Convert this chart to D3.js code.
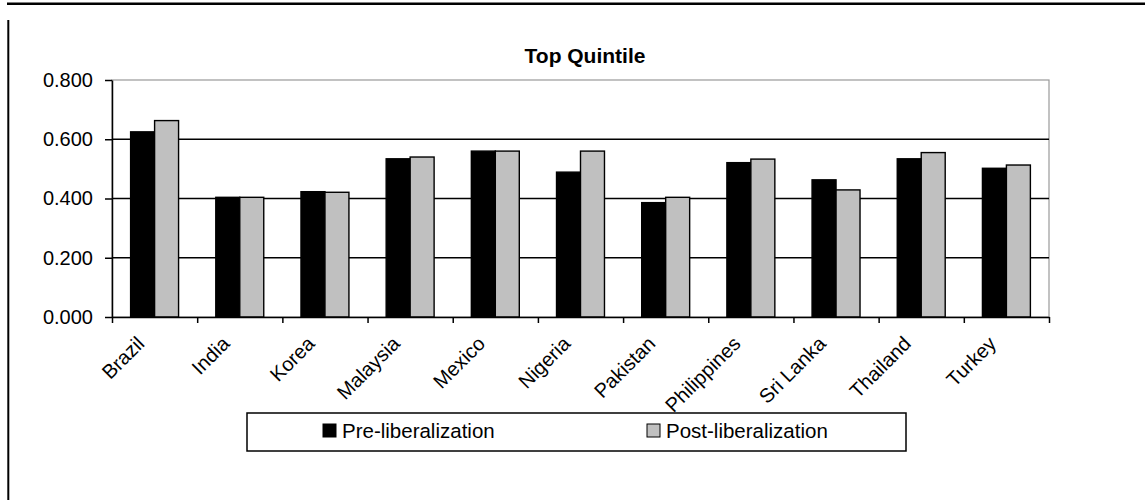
<!DOCTYPE html>
<html>
<head>
<meta charset="utf-8">
<script src="https://cdn.jsdelivr.net/npm/d3@7"></script>
<style>
  body { margin: 0; background: #fff; }
  text { font-family: "Liberation Sans", Arial, sans-serif; }
</style>
</head>
<body>
<div id="chart"></div>
<script>
// chart values
var categories = ["Brazil", "India", "Korea", "Malaysia", "Mexico", "Nigeria",
  "Pakistan", "Philippines", "Sri Lanka", "Thailand", "Turkey"];
var preValues = [0.625, 0.404, 0.423, 0.534, 0.560, 0.489, 0.386, 0.521, 0.463, 0.534, 0.502];
var postValues = [0.663, 0.404, 0.421, 0.540, 0.560, 0.560, 0.404, 0.533, 0.429, 0.555, 0.513];
var seriesNames = ["Pre-liberalization", "Post-liberalization"];
var seriesColors = ["#000000", "#c0c0c0"];
var yTicks = [0, 0.2, 0.4, 0.6, 0.8];

var svg = d3.select("#chart").append("svg")
  .attr("width", 1145)
  .attr("height", 500);

var margin = { top: 80, left: 112, right: 96, bottom: 183 };
var plotRight = 1145 - margin.right;
var plotBottom = 500 - margin.bottom;

// page frame lines
svg.append("rect").attr("x", 7).attr("y", 2.5).attr("width", 1138).attr("height", 2.5).attr("fill", "#000");
svg.append("rect").attr("x", 7.3).attr("y", 20).attr("width", 2).attr("height", 480).attr("fill", "#000");

var data = categories.map(function (c, i) {
  return { cat: c, values: [preValues[i], postValues[i]] };
});

var x0 = d3.scaleBand().domain(categories).range([margin.left, plotRight])
  .paddingInner(0.437).paddingOuter(0.2185);
var x1 = d3.scaleBand().domain([0, 1]).range([0, x0.bandwidth()]);
var xi = d3.scaleLinear().domain([0, categories.length]).range([margin.left, plotRight]);
var y = d3.scaleLinear().domain([0, 0.8]).range([plotBottom, margin.top]);

// plot area border (grey)
svg.append("rect")
  .attr("x", margin.left).attr("y", margin.top)
  .attr("width", plotRight - margin.left).attr("height", plotBottom - margin.top)
  .attr("fill", "none").attr("stroke", "#999").attr("stroke-width", 1.2);

// gridlines
svg.append("g").selectAll("line")
  .data(yTicks.filter(function (d) { return d > 0 && d < 0.8; }))
  .enter().append("line")
  .attr("x1", margin.left).attr("x2", plotRight)
  .attr("y1", function (d) { return y(d); }).attr("y2", function (d) { return y(d); })
  .attr("stroke", "#000").attr("stroke-width", 1.4);

// bars
var groups = svg.append("g").selectAll("g")
  .data(data).enter().append("g")
  .attr("transform", function (d) { return "translate(" + x0(d.cat) + ",0)"; });

groups.selectAll("rect")
  .data(function (d) { return d.values; })
  .enter().append("rect")
  .attr("x", function (d, i) { return x1(i); })
  .attr("y", function (d) { return y(d); })
  .attr("width", x1.bandwidth())
  .attr("height", function (d) { return y(0) - y(d); })
  .attr("fill", function (d, i) { return seriesColors[i]; })
  .attr("stroke", "#000").attr("stroke-width", 1.4);

// y axis
var yAxis = svg.append("g")
  .attr("transform", "translate(" + margin.left + ",0)")
  .call(d3.axisLeft(y).tickValues(yTicks).tickFormat(d3.format(".3f")).tickSize(7).tickSizeOuter(0).tickPadding(12));
yAxis.select(".domain").attr("stroke", "#000").attr("stroke-width", 1.5);
yAxis.selectAll(".tick line").attr("stroke", "#000").attr("stroke-width", 1.5);
yAxis.selectAll("text").attr("font-size", "20px").attr("fill", "#000")
  .style("font-family", "'Liberation Sans', Arial, sans-serif");

// x axis (ticks at category boundaries)
var xAxis = svg.append("g")
  .attr("transform", "translate(0," + plotBottom + ")")
  .call(d3.axisBottom(xi).tickValues(d3.range(categories.length + 1)).tickFormat("").tickSize(6).tickSizeOuter(0));
xAxis.select(".domain").attr("stroke", "#000").attr("stroke-width", 1.5);
xAxis.selectAll(".tick line").attr("stroke", "#000").attr("stroke-width", 1.5);

// category labels
svg.append("g").selectAll("text")
  .data(categories).enter().append("text")
  .attr("transform", function (d) {
    return "translate(" + (x0(d) + x0.bandwidth() / 2 - 9) + "," + (plotBottom + 28) + ") rotate(-45)";
  })
  .attr("text-anchor", "end")
  .attr("font-size", "20px")
  .attr("fill", "#000")
  .text(function (d) { return d; });

// title
svg.append("text")
  .attr("x", 585).attr("y", 63)
  .attr("text-anchor", "middle")
  .attr("font-size", "21px")
  .attr("font-weight", "bold")
  .text("Top Quintile");

// legend
var legend = svg.append("g");
legend.append("rect")
  .attr("x", 247).attr("y", 413).attr("width", 659).attr("height", 38)
  .attr("fill", "#fff").attr("stroke", "#000").attr("stroke-width", 1.5);

var legendX = [323, 647];
seriesNames.forEach(function (name, i) {
  legend.append("rect")
    .attr("x", legendX[i]).attr("y", 424).attr("width", 13).attr("height", 13)
    .attr("fill", seriesColors[i]).attr("stroke", "#000").attr("stroke-width", 1);
  legend.append("text")
    .attr("x", legendX[i] + 19).attr("y", 438)
    .attr("font-size", "20.5px")
    .text(name);
});
</script>
</body>
</html>
